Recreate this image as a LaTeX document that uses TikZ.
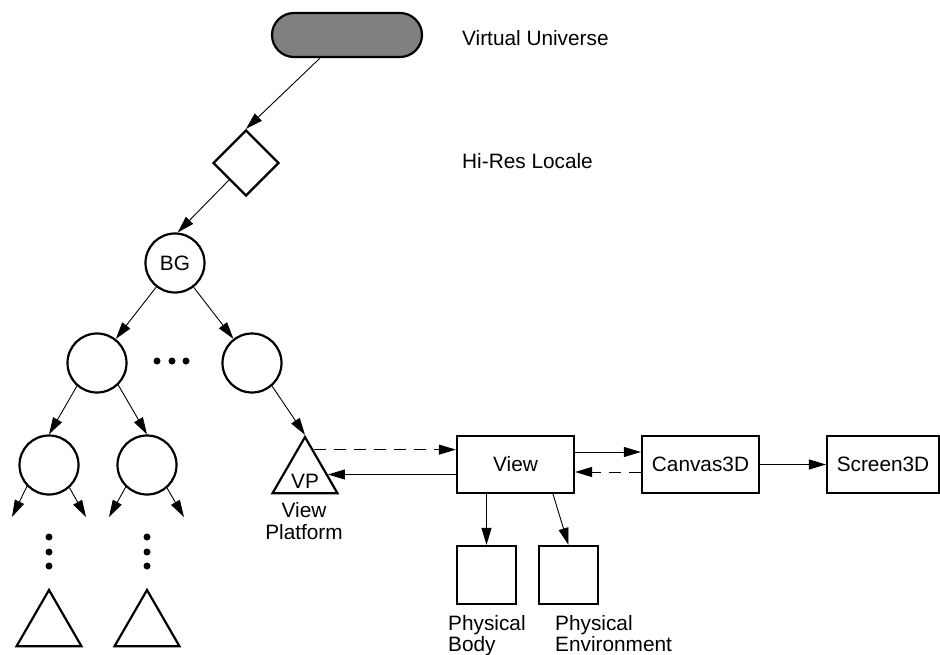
\documentclass[tikz,border=0pt]{standalone}
\usepackage{fontspec}
\setmainfont{Liberation Sans}
\usetikzlibrary{arrows.meta,shapes.geometric,shapes.misc,positioning}

\tikzset{
  every node/.style={font=\fontsize{20.8}{21.5}\selectfont},
  obj/.style={draw, line width=2.2pt, inner sep=0pt},
  grp/.style={obj, circle, minimum size=59pt},
  tri/.style={obj, regular polygon, regular polygon sides=3, minimum size=75pt},
  box/.style={obj, rectangle, minimum width=117pt, minimum height=57pt},
  sqbox/.style={obj, rectangle, minimum width=59pt, minimum height=58pt},
  arr/.style={-{Triangle[length=17pt,width=10pt]}, line width=0.9pt},
  darr/.style={arr, dash pattern=on 12pt off 8pt},
  dotmark/.style={circle, fill, inner sep=0pt, minimum size=7pt},
  tag/.style={inner sep=0pt, align=left}
}

\begin{document}
\begin{tikzpicture}[x=1pt,y=-1pt]
\useasboundingbox (0,0) rectangle (940,655);

% universe and locale
\node[obj, rounded rectangle, fill=gray, minimum width=150pt, minimum height=44pt] (vu) at (347,35) {};
\node[tag, anchor=west] (vutxt) at (462,38) {Virtual Universe};
\node[obj, diamond, minimum width=66pt, minimum height=66pt] (hr) at (246,163) {};
\node[tag, anchor=west] (hrtxt) at (462,161) {Hi-Res Locale};

% branch graph
\node[grp] (bg) at (175,263) {BG};
\node[grp] (gl) at (97,363) {};
\node[grp] (gr) at (252,363) {};
\node[grp] (gll) at (49,465) {};
\node[grp] (glr) at (147,465) {};

\node[dotmark] (h1) at (157,361) {};
\node[dotmark] (h2) at (172,361) {};
\node[dotmark] (h3) at (186,361) {};
\foreach \x in {49,147} {
  \node[dotmark] at (\x,537) {};
  \node[dotmark] at (\x,552) {};
  \node[dotmark] at (\x,566) {};
}

\node[tri] (lfa) at (49,627.5) {};
\node[tri] (lfb) at (147,627.5) {};

% view platform
\node[tri, label={[yshift=-6.5pt]center:VP}] (vp) at (305,474.5) {};
\node[align=center] (vptxt) at (304,521) {View\\Platform};

% view side
\node[box] (view) at (515.5,464.5) {View};
\node[box] (canvas) at (700.5,464.5) {Canvas3D};
\node[box, minimum width=112pt] (screen) at (883,464.5) {Screen3D};
\node[sqbox] (body) at (486.5,575) {};
\node[sqbox] (env) at (568.5,575) {};
\node[tag, anchor=north west] (bodytxt) at (448,615) {Physical\\Body};
\node[tag, anchor=north west] (envtxt) at (555,615) {Physical\\Environment};

\coordinate (a1) at (12,517);
\coordinate (a2) at (86,517);
\coordinate (a3) at (109,517);
\coordinate (a4) at (184,517);

\draw[arr] ([xshift=-27pt]vu.south) -- (hr.north);
\draw[arr] (hr.south west) -- (bg.85);
\draw[arr] (bg) -- (gl);
\draw[arr] (bg) -- (gr);
\draw[arr] (gl.229) -- (gll.north);
\draw[arr] (gl.314) -- (glr.north);
\draw[arr] (gr.311) -- (vp.corner 1);
\draw[arr] (gll.224) -- (a1);
\draw[arr] (gll.312) -- (a2);
\draw[arr] (glr.226) -- (a3);
\draw[arr] (glr.311) -- (a4);

\draw[darr] (vp.71) -- (view.west |- vp.71);
\draw[arr] (view.west |- vp.0) -- (vp.0);
\coordinate (v1) at ([yshift=12.5pt]view.east);
\coordinate (c1) at ([yshift=-7.5pt]canvas.west);
\draw[arr] (v1) -- (v1 -| canvas.west);
\draw[darr] (c1) -- (c1 -| view.east);
\draw[arr] (canvas.east) -- (screen.west);
\draw[arr] (view.south -| body.north) -- (body.north);
\draw[arr] ([xshift=37.5pt]view.south) -- (env.north);
\end{tikzpicture}
\end{document}
